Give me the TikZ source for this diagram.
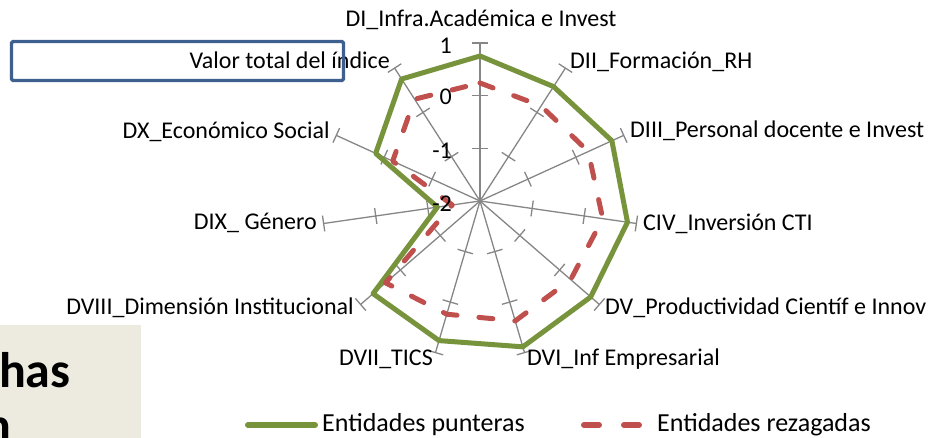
\documentclass[tikz,border=0pt]{standalone}
\usepackage{fontspec}
\setmainfont{Carlito}
\usetikzlibrary{calc}
\definecolor{axisgray}{RGB}{134,134,134}
\definecolor{olivegreen}{RGB}{119,147,60}
\definecolor{rezred}{RGB}{192,80,77}
\definecolor{boxblue}{RGB}{62,96,143}
\definecolor{panelbeige}{RGB}{237,234,224}
\begin{document}
\begin{tikzpicture}[x=1pt,y=-1pt,
  axisline/.style={draw=axisgray, line width=1.3pt},
  punt/.style={draw=olivegreen, line width=5pt, line join=round, line cap=round},
  rez/.style={draw=rezred, line width=5pt, line join=round, line cap=round, dash pattern=on 14pt off 22pt},
  lbl/.style={font=\fontsize{24}{28}\selectfont, inner sep=0pt, text=black},
  leglbl/.style={font=\fontsize{26}{30}\selectfont, inner sep=0pt, text=black, anchor=west}]
\useasboundingbox (0,0) rectangle (929,438);

% beige panel with cut-off text
\fill[panelbeige] (0,325) rectangle (141,438);
\begin{scope}
  \clip (0,325) rectangle (141,438);
  \node[anchor=base west, font=\bfseries\fontsize{50}{54}\selectfont, inner sep=0pt] (panelA) at (-22,387) {chas};
  \node[anchor=base west, font=\bfseries\fontsize{50}{54}\selectfont, inner sep=0pt] (panelB) at (-16,442) {n};
\end{scope}

% axes and ticks
\coordinate (C) at (480,201);
\foreach \k in {0,...,10}{
  \pgfmathsetmacro{\a}{-90+\k*360/11}
  \draw[axisline] (C) -- ($(C)+(\a:158)$);
  \foreach \r in {52.667,105.333,158}
    \draw[axisline] ($(C)+(\a:\r)+({\a+90}:8)$) -- ($(C)+(\a:\r)+({\a-90}:8)$);
}

% data points
\foreach \r [count=\k from 0] in {145,136,145,149,146.5,152,145.5,141.5,43,114.7,145}
  \coordinate (g\k) at ($(C)+({-90+\k*360/11}:\r)$);
\foreach \r [count=\k from 0] in {118,113,119,124,120,125,118,125,28,96,121}
  \coordinate (r\k) at ($(C)+({-90+\k*360/11}:\r)$);

\draw[punt] (g0)--(g1)--(g2)--(g3)--(g4)--(g5)--(g6)--(g7)--(g8)--(g9)--(g10)--cycle;
\draw[rez] (r0)--(r1)--(r2)--(r3)--(r4)--(r5)--(r6)--(r7)--(r8)--(r9)--(r10)--cycle;

% scale labels
\node[lbl, anchor=base east] (s1) at (452,53.5) {1};
\node[lbl, anchor=base east] (s0) at (452,104.5) {0};
\node[lbl, anchor=base east] (sm1) at (452,158.5) {-1};
\node[lbl, anchor=base east] (sm2) at (452,211.5) {-2};

% axis labels
\node[lbl, anchor=base] (lDI) at (481,27) {DI\_Infra.Académica e Invest};
\node[lbl, anchor=base west] (lDII) at (570,69) {DII\_Formación\_RH};
\node[lbl, anchor=base west] (lDIII) at (630,138) {DIII\_Personal docente e Invest};
\node[lbl, anchor=base west] (lCIV) at (643,231) {CIV\_Inversión CTI};
\node[lbl, anchor=base west] (lDV) at (605,315) {DV\_Productividad Científ e Innov};
\node[lbl, anchor=base west] (lDVI) at (527,365) {DVI\_Inf Empresarial};
\node[lbl, anchor=base east] (lDVII) at (433,365) {DVII\_TICS};
\node[lbl, anchor=base east] (lDVIII) at (354,315) {DVIII\_Dimensión Institucional};
\node[lbl, anchor=base east] (lDIX) at (317,230) {DIX\_ Género};
\node[lbl, anchor=base east] (lDX) at (330,139) {DX\_Económico Social};
\node[lbl, anchor=base east] (lVal) at (390,69) {Valor total del índice};

% blue title box
\draw[boxblue, line width=3.3pt, rounded corners=1.5pt] (11.5,41.5) rectangle (343.5,80.5);

% legend
\coordinate (lg1) at (248,425);
\coordinate (lg2) at (315,425);
\draw[punt, line width=6pt] (lg1) -- (lg2);
\node[leglbl] (legP) at (322,425) {Entidades punteras};
\coordinate (lr1) at (584,425);
\coordinate (lr2) at (599,425);
\coordinate (lr3) at (624,425);
\coordinate (lr4) at (639,425);
\draw[rez, dash pattern=, line width=6pt] (lr1) -- (lr2);
\draw[rez, dash pattern=, line width=6pt] (lr3) -- (lr4);
\node[leglbl] (legR) at (657,425) {Entidades rezagadas};
\end{tikzpicture}
\end{document}
